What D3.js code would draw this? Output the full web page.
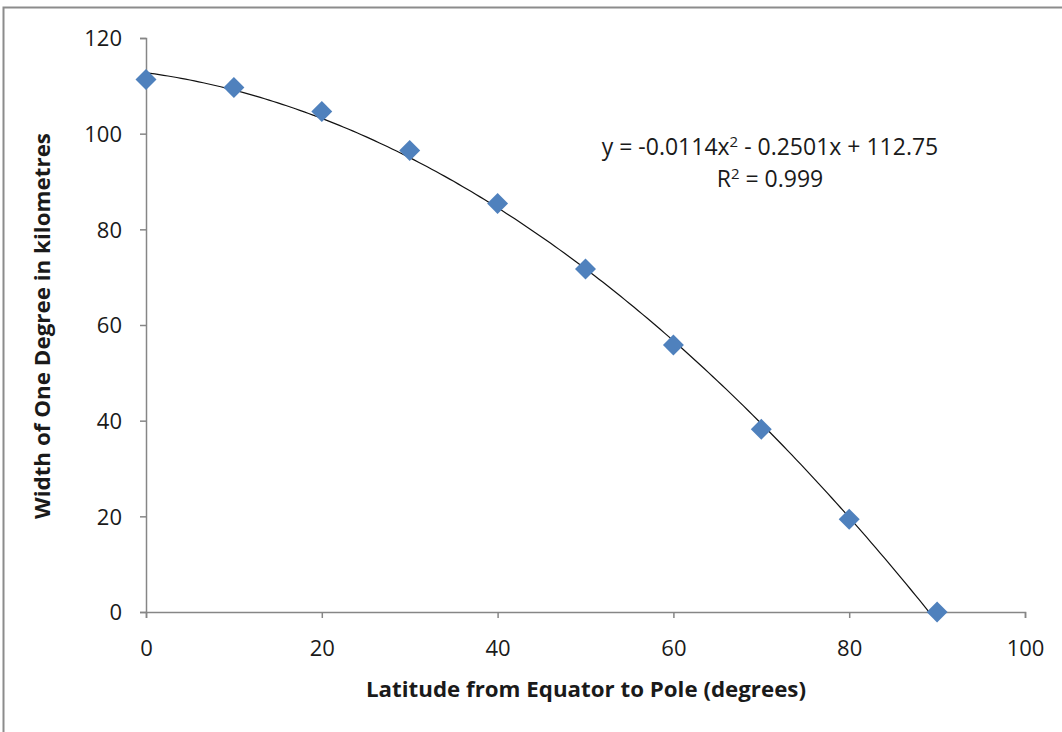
<!DOCTYPE html>
<html><head><meta charset="utf-8">
<script src="https://cdn.jsdelivr.net/npm/d3@7/dist/d3.min.js"></script>
<style>body{margin:0;background:#fff}svg{display:block}</style>
</head><body>
<svg id="c" width="1062" height="732"></svg>
<script>
const latitudes = [0, 10, 20, 30, 40, 50, 60, 70, 80, 90];
const widthsKm = [111.32, 109.64, 104.65, 96.49, 85.39, 71.70, 55.80, 38.19, 19.39, 0];
const xTicks = [0, 20, 40, 60, 80, 100];
const yTicks = [0, 20, 40, 60, 80, 100, 120];
const trendCoef = [-0.0114, -0.2501, 112.75]; // a, b, c
const xTitle = "Latitude from Equator to Pole (degrees)";
const yTitle = "Width of One Degree in kilometres";
const eqLine1 = ["y = -0.0114x", "2", " - 0.2501x + 112.75"];
const eqLine2 = ["R", "2", " = 0.999"];

const svg = d3.select("#c");
const font = "'Open Sans', sans-serif";
const L = 146, R = 1025, T = 38, B = 612;
const x = d3.scaleLinear().domain([0, 100]).range([L, R]);
const y = d3.scaleLinear().domain([0, 120]).range([B, T]);

// chart area border (top & left visible)
svg.append("path").attr("d", "M3.5,732 V7.5 H1062").attr("fill", "none").attr("stroke", "#8c8c8c").attr("stroke-width", 2);

svg.append("clipPath").attr("id", "plot").append("rect").attr("x", L).attr("y", T).attr("width", R - L).attr("height", B - T);

// axes
const axisColor = "#868686";
const gx = svg.append("g").attr("transform", `translate(0,${B})`)
  .call(d3.axisBottom(x).tickValues(xTicks).tickSize(6).tickPadding(22).tickFormat(d3.format("d")));
const gy = svg.append("g").attr("transform", `translate(${L},0)`)
  .call(d3.axisLeft(y).tickValues(yTicks).tickSize(6).tickPadding(18).tickFormat(d3.format("d")));
[gx, gy].forEach(g => {
  g.select(".domain").attr("stroke", axisColor).attr("stroke-width", 1.5);
  g.selectAll(".tick line").attr("stroke", axisColor).attr("stroke-width", 1.5);
  g.selectAll(".tick text").attr("fill", "#1a1a1a").attr("font-size", 22).attr("font-family", font);
});
gx.selectAll(".tick text").attr("dy", "0.72em");
gy.selectAll(".tick text").attr("dy", "0.36em");

// trendline
const a = trendCoef[0], b = trendCoef[1], c = trendCoef[2];
const tx = d3.range(0, 90.01, 0.5);
svg.append("path")
  .datum(tx)
  .attr("clip-path", "url(#plot)")
  .attr("fill", "none").attr("stroke", "#111").attr("stroke-width", 1.2)
  .attr("d", d3.line().x(d => x(d)).y(d => y(a * d * d + b * d + c)));

// points
const pts = latitudes.map((v, i) => [v, widthsKm[i]]);
svg.append("g").selectAll("path").data(pts).join("path")
  .attr("transform", d => `translate(${x(d[0])},${y(d[1])})`)
  .attr("d", d3.symbol().type(d3.symbolDiamond2).size(280))
  .attr("fill", "#4F81BD");

// equation
function eq(parts, cx, cy) {
  const t = svg.append("text").attr("x", cx).attr("y", cy).attr("text-anchor", "middle")
    .attr("font-family", font).attr("font-size", 23).attr("fill", "#1a1a1a");
  t.append("tspan").text(parts[0]);
  t.append("tspan").attr("dy", -8).attr("font-size", 15).text(parts[1]);
  t.append("tspan").attr("dy", 8).text(parts[2]);
}
eq(eqLine1, 770, 155);
eq(eqLine2, 770, 187);

// axis titles
svg.append("text").attr("x", 586).attr("y", 697).attr("text-anchor", "middle")
  .attr("font-family", font).attr("font-weight", "bold").attr("font-size", 22).attr("fill", "#1a1a1a")
  .attr("textLength", 440).attr("lengthAdjust", "spacingAndGlyphs").text(xTitle);
svg.append("text").attr("transform", "translate(50,326) rotate(-90)").attr("text-anchor", "middle")
  .attr("font-family", font).attr("font-weight", "bold").attr("font-size", 22).attr("fill", "#1a1a1a")
  .attr("textLength", 386).attr("lengthAdjust", "spacingAndGlyphs").text(yTitle);
</script>
</body></html>
